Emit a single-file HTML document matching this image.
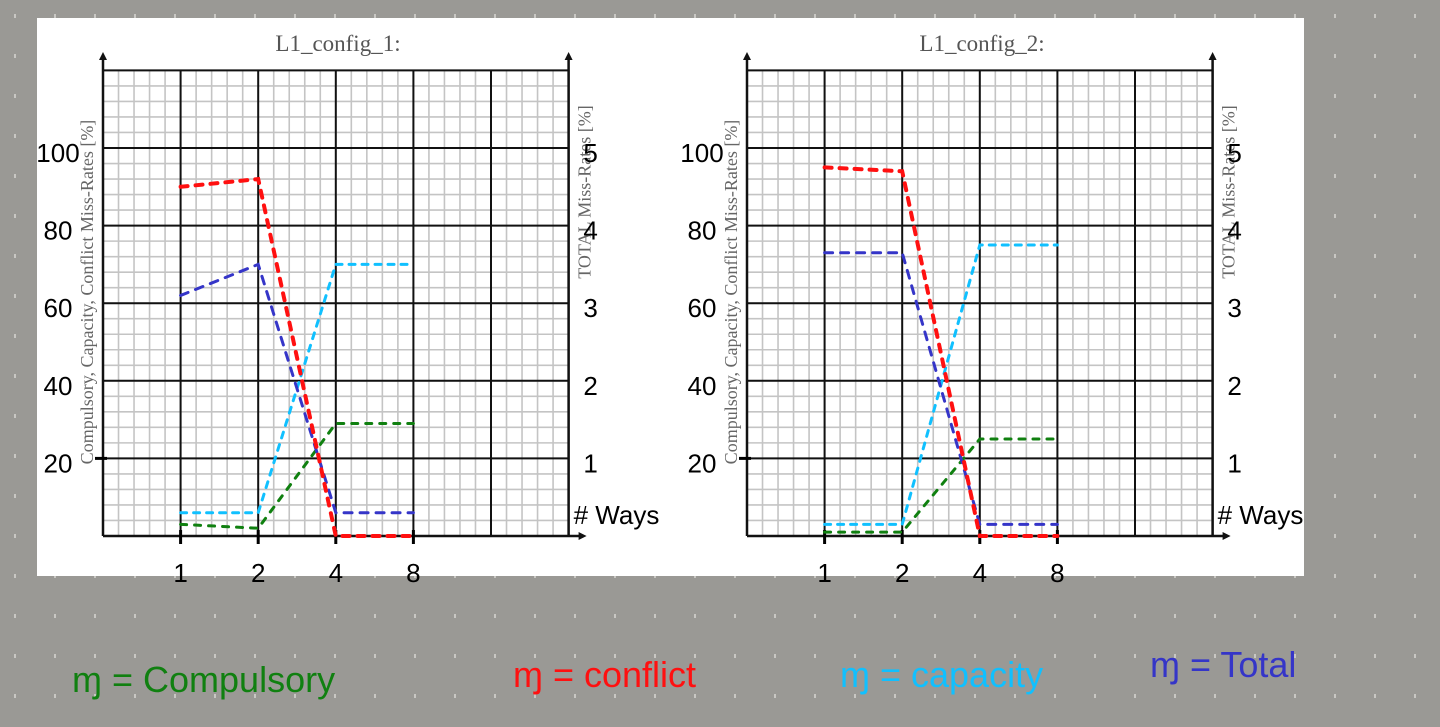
<!DOCTYPE html>
<html><head><meta charset="utf-8"><style>
body{margin:0;width:1440px;height:727px;overflow:hidden;background:#9a9995;font-family:"Liberation Sans",sans-serif}
svg{display:block}
</style></head><body>
<svg id="s" width="1440" height="727">
<defs>
<pattern id="dots" x="14" y="14" width="40" height="40" patternUnits="userSpaceOnUse"><rect x="0" y="0" width="2" height="4" fill="#c8c7c3"/></pattern>
</defs>
<rect width="1440" height="727" fill="url(#dots)"/>
<rect x="37" y="18" width="1267" height="558" fill="#fff"/>
<g id="legend" font-family="'Liberation Sans',sans-serif" font-size="36">
<text x="72" y="692" fill="#108010">ɱ = Compulsory</text>
<text x="513" y="687" fill="#ff1010">ɱ = conflict</text>
<text x="840" y="687" fill="#10c0ff">ɱ = capacity</text>
<text x="1150" y="677" fill="#3535c8">ɱ =  Total</text>
</g>
</svg>
<script>
const categories=["1","2","4","8"];
const yTicks=[20,40,60,80,100];
const rightTicks=["1","2","3","4","5"];
const c1Conflict=[90,92,0,0];
const c1Total=[62,70,6,6];
const c1Capacity=[6,6,70,70];
const c1Compulsory=[3,2,29,29];
const c2Conflict=[95,94,0,0];
const c2Total=[73,73,3,3];
const c2Capacity=[3,3,75,75];
const c2Compulsory=[1,1,25,25];
const svg=document.getElementById('s');
const NS='http://www.w3.org/2000/svg';
function mk(t,a,p){const e=document.createElementNS(NS,t);for(const k in a)e.setAttribute(k,a[k]);(p||svg).appendChild(e);return e;}
function chart(x0,title,series,idx){
  const g=mk('g',{});
  
  
  const top=70,bot=536,maj=77.6,right=x0+6*77.6;
  const xs=v=>x0+ (categories.indexOf(v)+1)*maj;
  const ys=v=>bot-v/20*maj;
  for(let y=bot;y>=top-0.1;y-=maj/5) mk('line',{x1:x0,x2:right,y1:y,y2:y,stroke:'#c4c4c4','stroke-width':1.6},g);
  for(let x=x0;x<=right+0.1;x+=maj/5) mk('line',{x1:x,x2:x,y1:top,y2:bot,stroke:'#c4c4c4','stroke-width':1.6},g);
  for(let i=0;i<=6;i++) mk('line',{x1:x0+i*maj,x2:x0+i*maj,y1:top,y2:bot,stroke:'#111','stroke-width':2},g);
  for(let v=0;v<=120;v+=20) mk('line',{x1:x0,x2:right,y1:ys(v),y2:ys(v),stroke:'#111','stroke-width':2},g);
  mk('line',{x1:x0,x2:x0,y1:bot,y2:55,stroke:'#111','stroke-width':2.5},g);
  mk('line',{x1:right,x2:right,y1:bot,y2:55,stroke:'#111','stroke-width':2.5},g);
  mk('line',{x1:x0,x2:right+15,y1:bot,y2:bot,stroke:'#111','stroke-width':2.5},g);
  mk('path',{d:`M${x0-4} 60 L${x0} 52 L${x0+4} 60Z M${right-4} 60 L${right} 52 L${right+4} 60Z M${right+10} ${bot-4} L${right+18} ${bot} L${right+10} ${bot+4}Z`,fill:'#111'},g);
  const t=mk('text',{x:x0+235,y:51,'text-anchor':'middle','font-family':"'Liberation Serif',serif",'font-size':23,fill:'#555'},g);t.textContent=title;
  const yt=mk('text',{transform:`translate(${x0-10},${292}) rotate(-90)`,'text-anchor':'middle','font-family':"'Liberation Serif',serif",'font-size':18,fill:'#666'},g);yt.textContent='Compulsory, Capacity, Conflict Miss-Rates [%]';
  const rt=mk('text',{transform:`translate(${right+22},${192}) rotate(-90)`,'text-anchor':'middle','font-family':"'Liberation Serif',serif",'font-size':18,fill:'#666'},g);rt.textContent='TOTAL Miss-Rates [%]';
  yTicks.forEach((v,i)=>{const e=mk('text',{x:x0-45,y:ys(v)+14,'text-anchor':'middle','font-size':26,fill:'#000'},g);e.textContent=String(v);
    const r=mk('text',{x:right+22,y:ys(v)+14,'text-anchor':'middle','font-size':26,fill:'#000'},g);r.textContent=rightTicks[i];});
  mk('line',{x1:x0-8,x2:x0+4,y1:ys(20),y2:ys(20),stroke:'#000','stroke-width':3},g);
  const w=mk('text',{x:right+5,y:524,'font-size':26,fill:'#000'},g);w.textContent='# Ways';
  categories.forEach(c=>{const e=mk('text',{x:xs(c),y:582,'text-anchor':'middle','font-size':26,fill:'#000'},g);e.textContent=c;
    mk('line',{x1:xs(c),x2:xs(c),y1:bot-6,y2:bot+8,stroke:'#000','stroke-width':3},g);});
  series.forEach(s=>{
    const d=s.vals.map((v,i)=>(i?'L':'M')+xs(categories[i])+' '+ys(v)).join(' ');
    const p=mk('path',{d:d,fill:'none',stroke:s.col,'stroke-width':s.w,'stroke-dasharray':s.dash,'stroke-linecap':'round'},g);
    
    
  });
}
chart(103,'L1_config_1:',[
 {name:'compulsory',vals:c1Compulsory,col:'#108010',w:3,dash:'6 8'},
 {name:'capacity',vals:c1Capacity,col:'#10c0ff',w:3,dash:'6 7'},
 {name:'total',vals:c1Total,col:'#3535c8',w:3,dash:'8 8'},
 {name:'conflict',vals:c1Conflict,col:'#ff1010',w:4,dash:'7 8'}],1);
chart(747,'L1_config_2:',[
 {name:'compulsory',vals:c2Compulsory,col:'#108010',w:3,dash:'6 8'},
 {name:'capacity',vals:c2Capacity,col:'#10c0ff',w:3,dash:'6 7'},
 {name:'total',vals:c2Total,col:'#3535c8',w:3,dash:'8 8'},
 {name:'conflict',vals:c2Conflict,col:'#ff1010',w:4,dash:'7 8'}],2);
svg.appendChild(document.getElementById('legend'));
</script>
</body></html>
